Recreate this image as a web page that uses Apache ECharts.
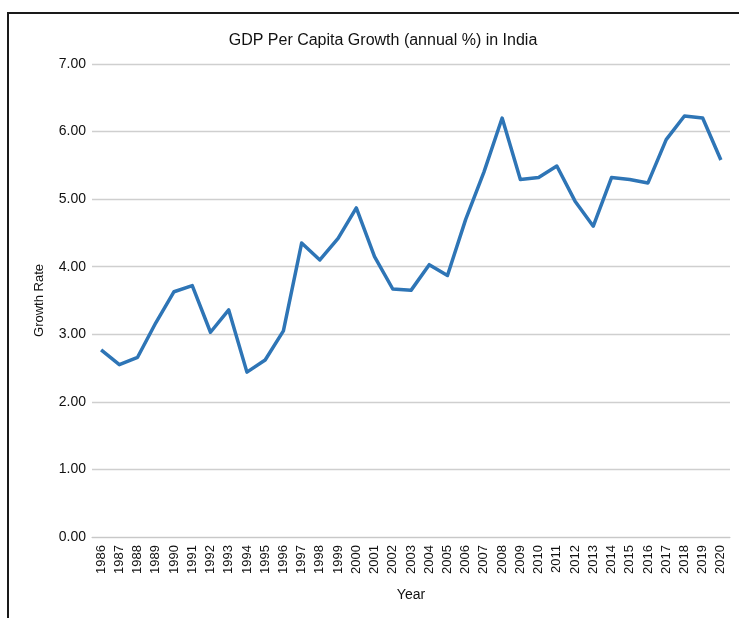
<!DOCTYPE html>
<html>
<head>
<meta charset="utf-8">
<script src="https://cdn.jsdelivr.net/npm/echarts@6/dist/echarts.min.js"></script>
<style>
  html, body { margin: 0; padding: 0; background: #fff; }
  #chart { width: 739px; height: 618px; }
</style>
</head>
<body>
<div id="chart"></div>
<script>
// Years on the category axis
const years = ['1986','1987','1988','1989','1990','1991','1992','1993','1994','1995',
  '1996','1997','1998','1999','2000','2001','2002','2003','2004','2005',
  '2006','2007','2008','2009','2010','2011','2012','2013','2014','2015',
  '2016','2017','2018','2019','2020'];

// GDP per capita growth, annual %
const growth = [2.77, 2.55, 2.66, 3.17, 3.63, 3.72, 3.03, 3.36, 2.44, 2.62,
  3.05, 4.35, 4.10, 4.42, 4.87, 4.15, 3.67, 3.65, 4.03, 3.87,
  4.70, 5.40, 6.20, 5.29, 5.32, 5.49, 4.97, 4.60, 5.32, 5.29,
  5.24, 5.88, 6.23, 6.20, 5.58];

const chart = echarts.init(document.getElementById('chart'), null, { renderer: 'canvas' });
const font = '"Liberation Sans", Arial, sans-serif';
const ink = '#111';

chart.setOption({
  animation: false,
  backgroundColor: '#fff',
  title: {
    text: 'GDP Per Capita Growth (annual %) in India',
    left: 378, top: 28, textAlign: 'center',
    textStyle: { fontFamily: font, fontSize: 16, fontWeight: 'normal', color: ink }
  },
  graphic: [{
    type: 'polyline',
    shape: { points: [[8, 640], [8, 13], [760, 13]] },
    style: { stroke: '#1a1a1a', lineWidth: 2, fill: null }
  }],
  grid: { left: 92, right: 9, top: 64, bottom: 81 },
  xAxis: {
    type: 'category',
    data: years,
    boundaryGap: true,
    name: 'Year',
    nameLocation: 'middle',
    nameGap: 51,
    nameTextStyle: { fontFamily: font, fontSize: 14, color: ink },
    axisLine: { show: true, lineStyle: { color: '#c8c8c8', width: 1.2 } },
    axisTick: { show: false },
    axisLabel: {
      rotate: 90, interval: 0, margin: 8,
      fontFamily: font, fontSize: 13, color: ink
    }
  },
  yAxis: {
    type: 'value',
    min: 0, max: 7, interval: 1,
    name: 'Growth Rate',
    nameLocation: 'middle',
    nameGap: 46,
    nameTextStyle: { fontFamily: font, fontSize: 13, color: ink },
    axisLine: { show: false },
    axisTick: { show: false },
    axisLabel: {
      margin: 6,
      fontFamily: font, fontSize: 14, color: ink,
      formatter: v => v.toFixed(2)
    },
    splitLine: { lineStyle: { color: '#cfcfcf', width: 1.3 } }
  },
  series: [{
    type: 'line',
    data: growth,
    symbol: 'none',
    lineStyle: { color: '#2e75b6', width: 3.5, join: 'round' }
  }]
});
</script>
</body>
</html>
